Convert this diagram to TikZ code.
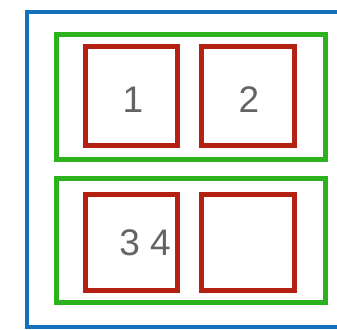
\documentclass[tikz,border=0pt]{standalone}
\usepackage{fontspec}
\setmainfont{Liberation Sans}
\definecolor{outerblue}{RGB}{20,112,186}
\definecolor{boxgreen}{RGB}{44,178,28}
\definecolor{boxred}{RGB}{180,32,18}
\definecolor{textgray}{RGB}{100,100,100}
\tikzset{
  redbox/.style={draw=boxred, line width=5pt, rectangle, inner sep=0pt},
  greenbox/.style={draw=boxgreen, line width=5pt, rectangle, inner sep=0pt},
  bluebox/.style={draw=outerblue, line width=4pt, rectangle, inner sep=0pt},
  label/.style={text=textgray, font=\fontsize{37}{40}\selectfont, inner sep=0pt}
}
\begin{document}
\begin{tikzpicture}[x=1pt,y=-1pt]
\useasboundingbox (0,0) rectangle (337,329);
\clip (0,0) rectangle (337,329);
\fill[white] (0,0) rectangle (337,329);
\node[bluebox, minimum width=318pt, minimum height=315pt] (outer) at (186,169.5) {};
\node[greenbox, minimum width=269pt, minimum height=124pt] (rowa) at (190.5,97) {};
\node[greenbox, minimum width=269pt, minimum height=124pt] (rowb) at (190.5,240) {};
\node[redbox, minimum width=92pt, minimum height=98pt] (b1) at (131,96) {};
\node[redbox, minimum width=93pt, minimum height=98pt] (b2) at (247.5,96) {};
\node[redbox, minimum width=92pt, minimum height=96pt] (b3) at (131,242) {};
\node[redbox, minimum width=93pt, minimum height=96pt] (b4) at (247.5,242) {};
\node[label] (t1) at (133,100) {1};
\node[label] (t2) at (249,100) {2};
\node[label] (t3) at (145,243) {3 4};
\end{tikzpicture}
\end{document}
